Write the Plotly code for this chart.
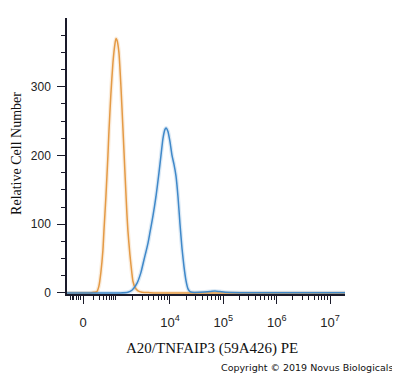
import math
import plotly.graph_objects as go

# Display scale: x is in "decade" display units (4 -> 10^4, 5 -> 10^5 ...); "0" sits at 2.37
ZERO_POS = 2.37
X_MIN, X_MAX = 2.07, 7.28

# Isotype / control (orange)
orange_x = [2.07, 2.50, 2.574, 2.630, 2.668, 2.705, 2.743, 2.762, 2.799, 2.837, 2.856, 2.893,
            2.931, 2.968, 2.987, 3.006, 3.043, 3.081, 3.118, 3.156, 3.193, 3.212, 3.250,
            3.287, 3.306, 3.343, 3.400, 3.475, 3.625, 3.812, 4.2, 7.28]
orange_y = [0, 0, 1, 2, 10, 30, 62, 90, 140, 200, 235, 290,
            335, 362, 370, 368, 350, 300, 240, 175, 115, 90, 55,
            28, 17, 8, 3, 1, 0.5, 0, 0, 0]

# A20/TNFAIP3 stained (blue)
blue_x = [2.07, 3.062, 3.212, 3.287, 3.381, 3.456, 3.512, 3.550, 3.587, 3.625, 3.681, 3.737,
          3.794, 3.831, 3.869, 3.906, 3.925, 3.962, 4.000, 4.038, 4.075, 4.113, 4.150,
          4.188, 4.225, 4.263, 4.300, 4.338, 4.375, 4.413, 4.563, 4.750, 4.844, 4.938,
          5.032, 5.313, 7.28]
blue_y = [0, 0, 1, 4, 14, 30, 48, 60, 72, 88, 112, 140,
          175, 200, 225, 238, 240, 235, 220, 200, 187, 170, 140,
          100, 65, 38, 18, 6, 2, 1, 1, 2, 3, 2,
          1, 0.5, 0.5]

x_tickvals = [ZERO_POS, 4, 5, 6, 7]
x_ticktext = ["0", "10<sup>4</sup>", "10<sup>5</sup>", "10<sup>6</sup>", "10<sup>7</sup>"]

y_tickvals = [0, 100, 200, 300]
y_minor = [25, 50, 75, 125, 150, 175, 225, 250, 275, 325, 350, 375]

x_minor = []
for d in (3, 4, 5, 6):
    for k in range(2, 10):
        x_minor.append(d + math.log10(k))
for k in range(2, 10):
    x_minor.append(ZERO_POS + 0.63 * math.log10(k))
for off in (0.05, 0.09, 0.13, 0.17, 0.2, 0.23):
    x_minor.append(ZERO_POS - off)
x_minor = [v for v in x_minor if X_MIN < v < X_MAX and v not in x_tickvals]

ORANGE = "#E49A45"
BLUE = "#3F88C9"

fig = go.Figure()
fig.add_trace(go.Scatter(x=orange_x, y=orange_y, mode="lines",
                         line=dict(color=ORANGE, width=4, shape="spline", smoothing=0.5),
                         opacity=0.18, hoverinfo="skip", showlegend=False))
fig.add_trace(go.Scatter(x=blue_x, y=blue_y, mode="lines",
                         line=dict(color=BLUE, width=4, shape="spline", smoothing=0.5),
                         opacity=0.18, hoverinfo="skip", showlegend=False))
fig.add_trace(go.Scatter(x=orange_x, y=orange_y, mode="lines",
                         line=dict(color=ORANGE, width=1.5, shape="spline", smoothing=0.5),
                         showlegend=False))
fig.add_trace(go.Scatter(x=blue_x, y=blue_y, mode="lines",
                         line=dict(color=BLUE, width=1.5, shape="spline", smoothing=0.5),
                         showlegend=False))

tick_font = dict(family="Liberation Sans, Arial, sans-serif", size=12, color="#222222")
serif = "Liberation Serif, Times New Roman, serif"

# The page body adds an 8px offset, so the figure is drawn 8px smaller.
fig.update_layout(
    width=392, height=370,
    margin=dict(l=59, r=55, t=10, b=84),
    paper_bgcolor="white", plot_bgcolor="white",
    showlegend=False,
    xaxis=dict(
        range=[X_MIN, X_MAX], showgrid=False, zeroline=False,
        showline=True, linecolor="#1a1a2a", linewidth=2,
        tickmode="array", tickvals=x_tickvals, ticktext=x_ticktext,
        ticks="outside", ticklen=8, tickwidth=1, tickcolor="#1a1a2a",
        ticklabelstandoff=7,
        tickfont=dict(family="Liberation Sans, Arial, sans-serif", size=13, color="#222222"),
        minor=dict(tickmode="array", tickvals=x_minor, ticks="outside",
                   ticklen=4, tickwidth=1, tickcolor="#1a1a2a", showgrid=False),
    ),
    yaxis=dict(
        range=[-1.5, 400], showgrid=False, zeroline=False,
        showline=True, linecolor="#1a1a2a", linewidth=1.5,
        tickmode="array", tickvals=y_tickvals,
        ticks="outside", ticklen=8, tickwidth=1, tickcolor="#1a1a2a",
        ticklabelstandoff=4,
        tickfont=tick_font,
        minor=dict(tickmode="array", tickvals=y_minor, ticks="outside",
                   ticklen=4, tickwidth=1, tickcolor="#1a1a2a", showgrid=False),
    ),
    annotations=[
        dict(text="A20/TNFAIP3 (59A426) PE", xref="paper", yref="paper",
             x=0.5216, y=-0.1957, xanchor="center", yanchor="middle", showarrow=False,
             font=dict(family=serif, size=15, color="#111111")),
        dict(text="Relative Cell Number", xref="paper", yref="paper",
             x=-0.18, y=0.511, xanchor="center", yanchor="middle", showarrow=False,
             textangle=-90, font=dict(family=serif, size=14, color="#111111")),
        dict(text="Copyright © 2019 Novus Biologicals", xref="paper", yref="paper",
             x=1.18, y=-0.268, xanchor="right", yanchor="middle", showarrow=False,
             font=dict(family="DejaVu Sans, sans-serif", size=9.5, color="#111111")),
    ],
)

fig.write_html("out.html")
